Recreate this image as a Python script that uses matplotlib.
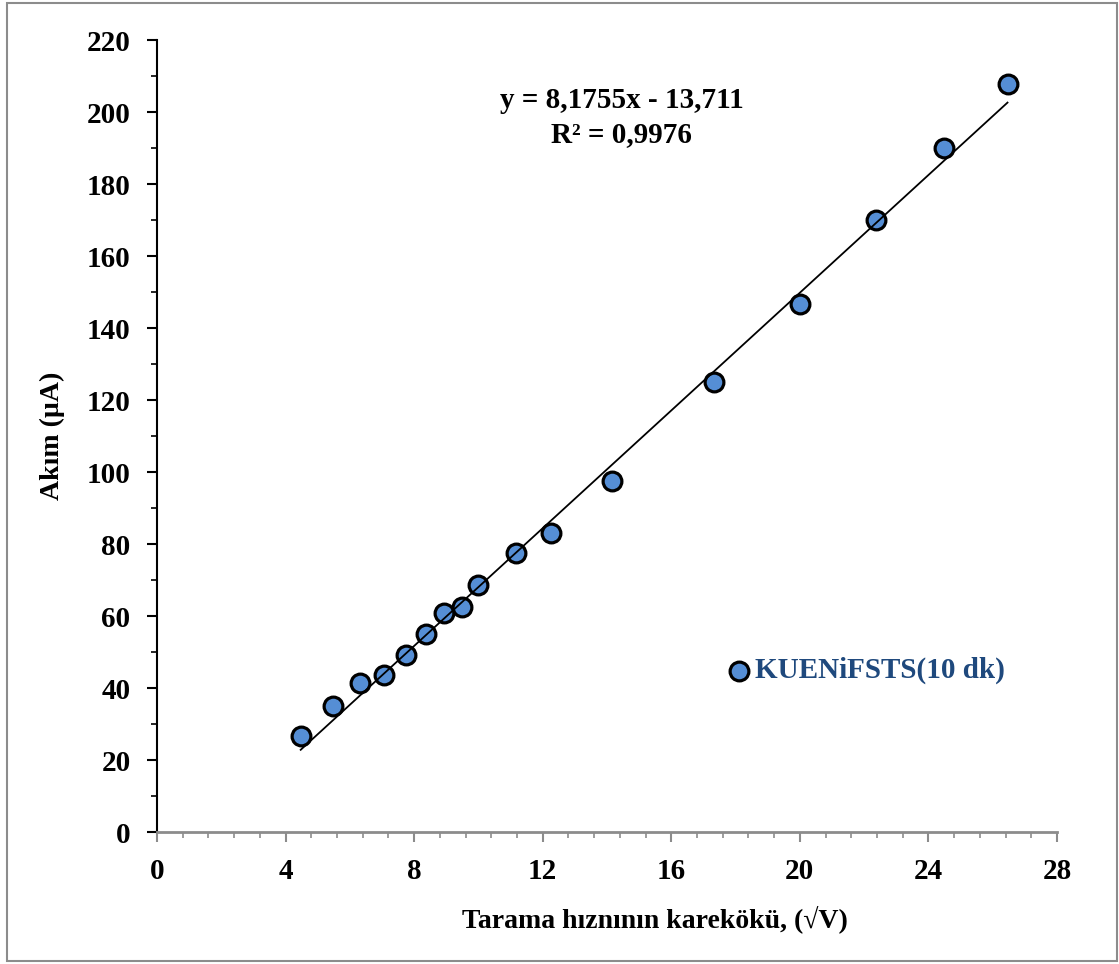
import matplotlib
matplotlib.use("Agg")
import matplotlib.pyplot as plt
import numpy as np
from matplotlib.patches import Rectangle
from matplotlib.ticker import MultipleLocator

# data
sqrt_v = [4.47, 5.48, 6.32, 7.07, 7.75, 8.37, 8.94, 9.49, 10.0, 11.18,
          12.25, 14.14, 17.32, 20.0, 22.36, 24.49, 26.46]
current = [26.7, 35.0, 41.4, 43.6, 49.2, 55.0, 60.8, 62.5, 68.6, 77.5,
           83.1, 97.5, 125.0, 146.7, 170.0, 190.0, 207.8]
slope = 8.1755
intercept = -13.711
series_name = "KUENiFSTS(10 dk)"

plt.rcParams['font.family'] = ['Liberation Serif', 'DejaVu Serif']
plt.rcParams['font.weight'] = 'bold'

fig = plt.figure(figsize=(11.19, 9.64), dpi=100)
ax = fig.add_axes([0.1403, 0.1369, 0.8043, 0.8216])

ax.plot(sqrt_v, current, 'o', ms=13.5, mfc='#558ED5', mec='black', mew=2.3,
        zorder=3, label=series_name)
xf = np.array([sqrt_v[0], sqrt_v[-1]])
ax.plot(xf, slope * xf + intercept, color='black', lw=1.3, zorder=4)

ax.set_xlim(0, 28)
ax.set_ylim(0, 220)
ax.xaxis.set_major_locator(MultipleLocator(4))
ax.xaxis.set_minor_locator(MultipleLocator(0.8))
ax.yaxis.set_major_locator(MultipleLocator(20))
ax.yaxis.set_minor_locator(MultipleLocator(10))

for s in ['top', 'right']:
    ax.spines[s].set_visible(False)
ax.spines['left'].set_color('black')
ax.spines['left'].set_linewidth(1.5)
ax.spines['bottom'].set_color('#8c8c8c')
ax.spines['bottom'].set_linewidth(2)

ax.tick_params(axis='y', which='major', length=7, width=1.5, color='black',
               labelsize=21, pad=12)
ax.tick_params(axis='y', which='minor', length=4, width=1.2, color='black')
ax.tick_params(axis='x', which='major', length=7, width=1.5, color='#8c8c8c',
               labelsize=21, pad=12)
ax.tick_params(axis='x', which='minor', length=4, width=1.2, color='#8c8c8c')
for lab in ax.get_xticklabels() + ax.get_yticklabels():
    lab.set_fontweight('bold')

ax.set_xlabel("Tarama hıznının karekökü, (√V)", fontsize=20, fontweight='bold')
ax.xaxis.set_label_coords(0.553, -0.092)
ax.set_ylabel("Akım (µA)", fontsize=20, fontweight='bold', labelpad=16)

ax.text(0.516, 0.902, "y = 8,1755x - 13,711\nR² = 0,9976", transform=ax.transAxes,
        ha='center', va='center', fontsize=21, fontweight='bold',
        linespacing=1.3)

ax.plot([18.1], [44.8], 'o', ms=13.5, mfc='#558ED5', mec='black', mew=2.3)
ax.text(18.6, 44.8, series_name, color='#1F497D', fontsize=21,
        fontweight='bold', va='center', ha='left')

fig.patches.append(Rectangle((0.006, 0.003), 0.992, 0.994, transform=fig.transFigure,
                             fill=False, edgecolor='#8c8c8c', lw=1.5))

fig.savefig("out.png", dpi=100)
